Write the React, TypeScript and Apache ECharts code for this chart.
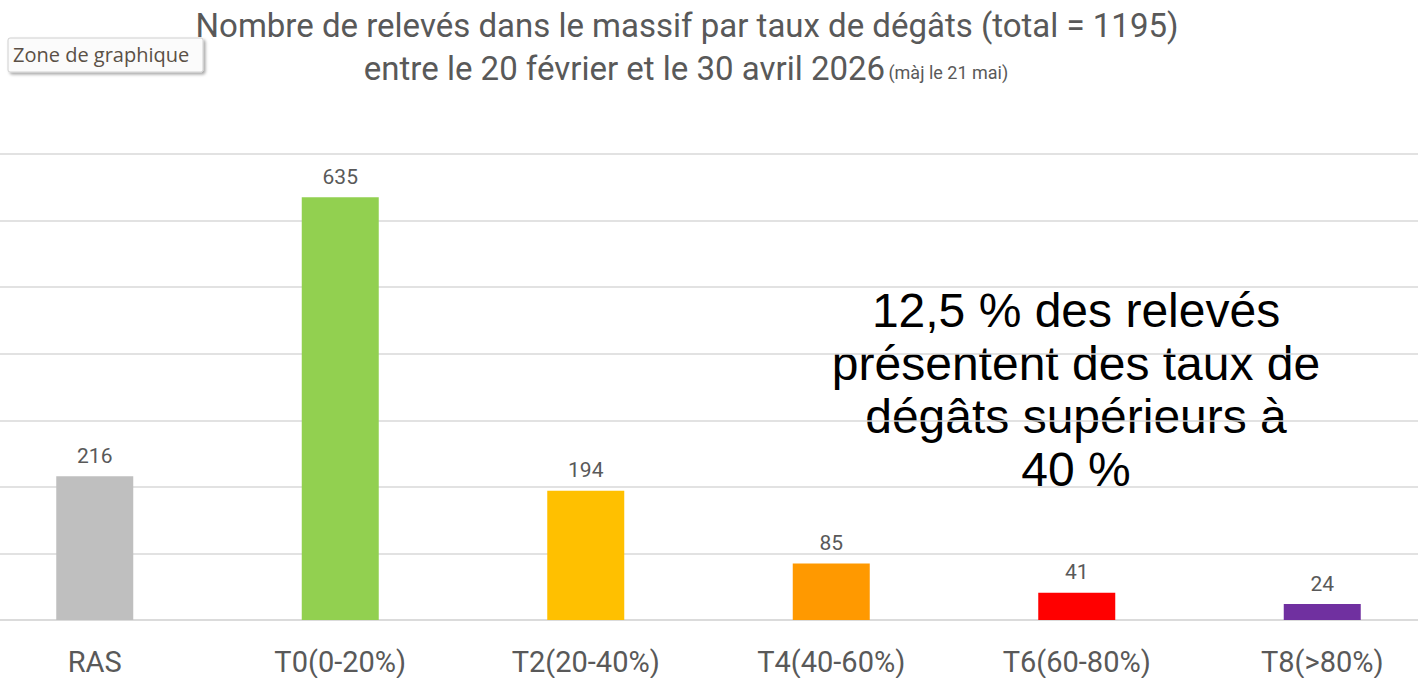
import React, { useEffect, useRef } from "react";
import * as echarts from "echarts";

const categories = ["RAS", "T0(0-20%)", "T2(20-40%)", "T4(40-60%)", "T6(60-80%)", "T8(>80%)"];
const values = [216, 635, 194, 85, 41, 24];
const barColors = ["#BFBFBF", "#92D050", "#FFC000", "#FF9900", "#FF0000", "#7030A0"];
const titleLine1 = "Nombre de relevés dans le massif par taux de dégâts (total = 1195)";
const titleLine2 = "entre le 20 février et le 30 avril 2026";
const titleNote = "(màj le 21 mai)";
const annotation = "12,5 % des relevés\nprésentent des taux de\ndégâts supérieurs à\n40 %";

// the plot extends slightly beyond both edges of the visible page
const OFFSET = 28;

export default function App() {
  const ref = useRef<HTMLDivElement>(null);
  useEffect(() => {
    if (!ref.current) return;
    const chart = echarts.init(ref.current, undefined, { renderer: "svg" });
    const font = "Roboto, 'DejaVu Sans', sans-serif";
    chart.setOption({
      animation: false,
      backgroundColor: "#ffffff",
      grid: { left: 0, right: 0, top: 154, bottom: 58, containLabel: false },
      xAxis: {
        type: "category",
        data: categories,
        axisLine: { lineStyle: { color: "#d9d9d9", width: 1.5 } },
        axisTick: { show: false },
        axisLabel: { color: "#595959", fontSize: 29, fontFamily: font, margin: 27 },
      },
      yAxis: {
        type: "value",
        min: 0,
        max: 700,
        interval: 100,
        axisLabel: { show: false },
        axisLine: { show: false },
        axisTick: { show: false },
        splitLine: { lineStyle: { color: "#d9d9d9", width: 1.5 } },
      },
      series: [
        {
          type: "bar",
          barWidth: 77,
          data: values.map((v, i) => ({ value: v, itemStyle: { color: barColors[i] } })),
          label: {
            show: true,
            position: "top",
            distance: 10,
            color: "#595959",
            fontSize: 21,
            fontFamily: font,
          },
        },
      ],
      graphic: [
        {
          type: "text",
          x: 687 + OFFSET,
          y: 25,
          style: {
            text: titleLine1,
            fill: "#595959",
            font: `33px ${font}`,
            textAlign: "center",
            textVerticalAlign: "middle",
          },
        },
        {
          type: "text",
          x: 686 + OFFSET,
          y: 68,
          style: {
            text: `{a|${titleLine2}} {b|${titleNote}}`,
            textAlign: "center",
            textVerticalAlign: "middle",
            rich: {
              a: { fontSize: 33, fontFamily: font, fill: "#595959", color: "#595959" },
              b: { fontSize: 18, fontFamily: font, fill: "#595959", color: "#595959", padding: [9, 0, 0, 0] },
            },
          },
        },
        {
          type: "rect",
          shape: { x: 8 + OFFSET, y: 38, width: 195, height: 34, r: 2 },
          style: {
            fill: "#fbfbfb",
            stroke: "#d0d0d0",
            lineWidth: 1,
            shadowBlur: 3,
            shadowOffsetX: 2,
            shadowOffsetY: 2,
            shadowColor: "rgba(0,0,0,0.35)",
          },
        },
        {
          type: "text",
          x: 13 + OFFSET,
          y: 54,
          style: {
            text: "Zone de graphique",
            fill: "#5a5046",
            font: "20px 'Open Sans', 'Noto Sans', sans-serif",
            textVerticalAlign: "middle",
          },
        },
        {
          type: "text",
          x: 1076 + OFFSET,
          y: 390,
          style: {
            text: annotation,
            fill: "#000000",
            font: "48px 'Liberation Sans', Arial, sans-serif",
            lineHeight: 53,
            textAlign: "center",
            textVerticalAlign: "middle",
          },
        },
      ],
    });
    return () => chart.dispose();
  }, []);
  return (
    <div
      ref={ref}
      style={{ position: "fixed", left: -OFFSET, top: 0, width: 1473, height: 678, background: "#fff" }}
    />
  );
}
